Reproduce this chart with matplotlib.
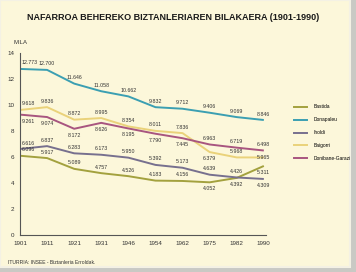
import matplotlib
matplotlib.use("Agg")
import matplotlib.pyplot as plt
from matplotlib.patches import Rectangle
from matplotlib.lines import Line2D

# Population of Nafarroa Beherea cantons, in thousands
years = ["1901", "1911", "1921", "1931", "1946", "1954", "1962", "1975", "1982", "1990"]
bastida = [6.096, 5.917, 5.089, 4.757, 4.526, 4.183, 4.156, 4.052, 4.392, 5.311]
donapaleu = [12.773, 12.700, 11.646, 11.058, 10.662, 9.832, 9.712, 9.406, 9.069, 8.846]
iholdi = [6.616, 6.837, 6.283, 6.173, 5.950, 5.392, 5.173, 4.639, 4.426, 4.309]
baigorri = [9.618, 9.836, 8.872, 8.995, 8.354, 8.011, 7.836, 6.379, 5.968, 5.965]
garazi = [9.261, 9.074, 8.172, 8.626, 8.195, 7.790, 7.445, 6.963, 6.719, 6.498]
series_names = ["Bastida", "Donapaleu", "Iholdi", "Baigorri", "Donibane-Garazi"]
y_ticks = [0, 2, 4, 6, 8, 10, 12, 14]

title = "NAFARROA BEHEREKO BIZTANLERIAREN BILAKAERA (1901-1990)"
unit = "MILA"
source = "ITURRIA: INSEE - Biztanleria Erroldak."

colors = ["#a3a13e", "#3b9fb2", "#77708e", "#ead27a", "#a8557f"]
# vertical placement of each value label (points; negative = below the line)
offsets = [
    [2.5, 2.5, 2.5, 2.5, 2.5, 2.5, 2.5, -6.5, -6.5, -6.5],
    [2.5, 2.5, 2.5, 2.5, 2.5, 2.5, 2.5, 2.5, 2.5, 2.5],
    [2.5, 2.5, 2.5, 2.5, 2.5, 2.5, 2.5, 2.5, 2.5, -6.5],
    [2.5, 2.5, 2.5, 2.5, 2.5, 2.5, 2.5, -6.5, 2.5, -1.5],
    [-6.5, -6.5, -6.5, -6.5, -6.5, -6.5, -6.5, 2.5, 2.5, 2.5],
]

W, H = 356, 272
fig = plt.figure(figsize=(W / 100, H / 100), dpi=100)
fig.patch.set_facecolor("#c9c9c4")
card = Rectangle((0, 5 / H), 350 / W, 1 - 5 / H, transform=fig.transFigure,
                 facecolor="#fcf7da", edgecolor="#f4f1e4", linewidth=1.5, zorder=-10)
fig.add_artist(card)

ax = fig.add_axes([20 / W, 1 - 235 / H, 246 / W, 182 / H])
ax.set_facecolor("none")
ax.set_zorder(1)

x = list(range(len(years)))
all_series = [bastida, donapaleu, iholdi, baigorri, garazi]
for vals, col, offs in zip(all_series, colors, offsets):
    ax.plot(x, vals, color=col, linewidth=1.4, solid_capstyle="butt")
    for xi, v, dy in zip(x, vals, offs):
        first = xi == 0
        ax.annotate(f"{v:.3f}", (xi, v), xytext=(1 if first else 0, dy),
                    textcoords="offset points", ha="left" if first else "center",
                    va="bottom", fontsize=3.8, color="#333333", family="Liberation Sans")

ax.set_xlim(0, 9.08)
ax.set_ylim(0, 14)
ax.set_xticks(x)
ax.set_xticklabels(years)
ax.set_yticks(y_ticks)
ax.set_yticklabels([str(t) for t in y_ticks])
ax.tick_params(length=0, labelsize=4.5, colors="#333333", pad=4)
for lab in ax.get_xticklabels() + ax.get_yticklabels():
    lab.set_family("Liberation Sans")
for s in ["top", "right"]:
    ax.spines[s].set_visible(False)
for s in ["left", "bottom"]:
    ax.spines[s].set_color("#555555")
    ax.spines[s].set_linewidth(0.8)

fig.text(27 / W, 1 - 18 / H, title, fontsize=6.5, fontweight="bold", family="Liberation Sans",
         va="center", ha="left", color="#1a1a1a")
fig.text(14 / W, 1 - 43 / H, unit, fontsize=4.3, family="Liberation Sans",
         va="center", ha="left", color="#333333")
fig.text(8 / W, 1 - 262 / H, source, fontsize=3.6, family="Liberation Sans",
         va="center", ha="left", color="#333333")

handles = [Line2D([], [], color=c, linewidth=1.4) for c in colors]
fig.legend(handles, series_names, loc="upper left", bbox_to_anchor=(292 / W, 1 - 102 / H),
           frameon=False, handlelength=2.5, handletextpad=1.3,
           labelspacing=1.6, borderpad=0, prop={"family": "Liberation Sans", "size": 3.55})

fig.savefig("out.png", dpi=100, facecolor=fig.get_facecolor())
